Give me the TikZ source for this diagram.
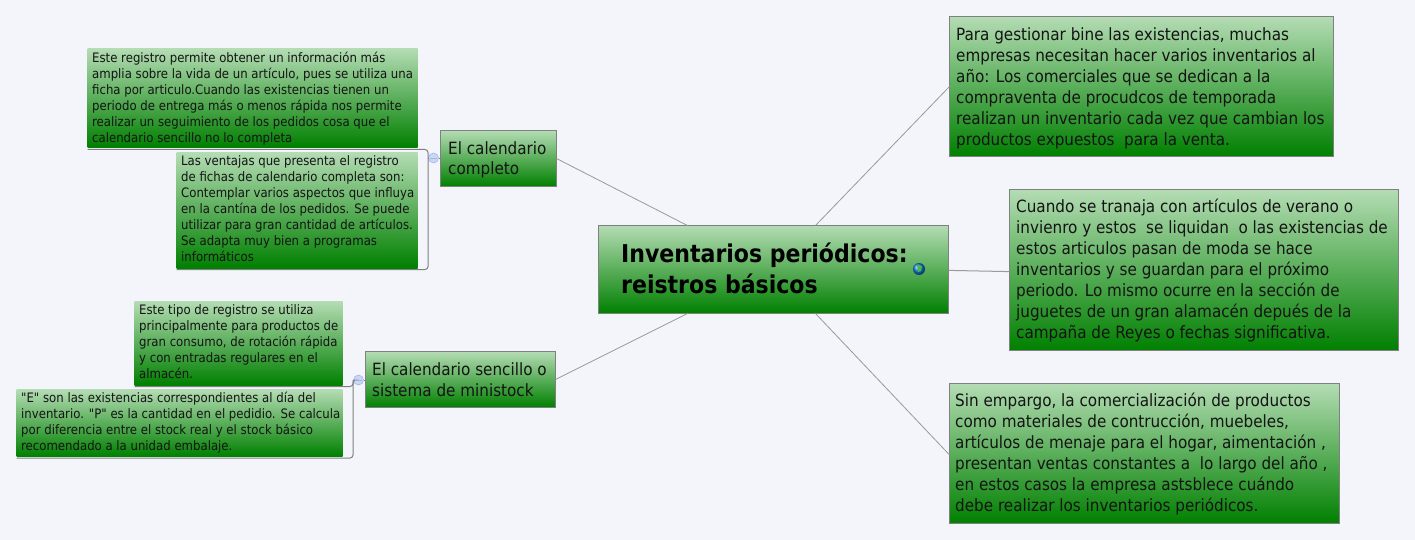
\documentclass[tikz,border=0pt]{standalone}
\usepackage{fontspec}
\setmainfont[Ligatures=TeXOff]{DejaVu Sans Condensed}
\usetikzlibrary{calc}
\definecolor{bgc}{HTML}{F3F5FB}
\definecolor{topg}{HTML}{B4DCB4}
\definecolor{botg}{HTML}{008000}
\definecolor{edge}{HTML}{808080}
\definecolor{toggle}{HTML}{C6D8F6}
\tikzset{
 x=1pt,y=-1pt,
 gbox/.style={rectangle,anchor=north west,top color=topg,bottom color=botg,middle color=topg!50!botg,text=black!90,align=left,inner sep=0pt,outer sep=0pt},
 mainbox/.style={gbox,draw=edge,line width=1pt,xshift=0.5pt,yshift=-0.5pt},
 plaintxt/.style={anchor=north west,inner sep=0pt,align=left,text=black!92},
 notetxt/.style={plaintxt,font=\fontsize{13.03}{16}\selectfont},
 bigtxt/.style={plaintxt,font=\fontsize{16.9}{21}\selectfont},
 link/.style={draw=edge!80,line width=0.8pt},
 bracket/.style={draw=edge,line width=1pt,rounded corners=3pt},
 togglec/.style={circle,draw=toggle!80!blue,fill=toggle,minimum size=10pt,inner sep=0pt,line width=0.5pt},
}
\begin{document}
\begin{tikzpicture}
\useasboundingbox (0,0) rectangle (1415,540);
\fill[bgc] (0,0) rectangle (1415,540);
% root
\node[mainbox,minimum width=350pt,minimum height=88pt] (root) at (598,225) {};
\node[plaintxt,font=\fontsize{24.5}{31}\bfseries\selectfont,text=black] (roottext) at (621,243) {Inventarios periódicos:\\reistros básicos};
% right
\node[mainbox,minimum width=384pt,minimum height=140pt] (r1) at (949,16) {};
\node[bigtxt] (r1t) at (956,27) {Para gestionar bine las existencias, muchas\\empresas necesitan hacer varios inventarios al\\año: Los comerciales que se dedican a la\\compraventa de procudcos de temporada\\realizan un inventario cada vez que cambian los\\productos expuestos\ \ para la venta.};
\node[mainbox,minimum width=389pt,minimum height=161pt] (r2) at (1009,189) {};
\node[bigtxt] (r2t) at (1016,199) {Cuando se tranaja con artículos de verano o\\invienro y estos\ \ se liquidan\ \ o las existencias de\\estos articulos pasan de moda se hace\\inventarios y se guardan para el próximo\\periodo. Lo mismo ocurre en la sección de\\juguetes de un gran alamacén depués de la\\campaña de Reyes o fechas significativa.};
\node[mainbox,minimum width=390pt,minimum height=140pt] (r3) at (949,383) {};
\node[bigtxt] (r3t) at (955,393) {Sin empargo, la comercialización de productos\\como materiales de contrucción, muebeles,\\artículos de menaje para el hogar, aimentación ,\\presentan ventas constantes a\ \ lo largo del año ,\\en estos casos la empresa astsblece cuándo\\debe realizar los inventarios periódicos.};
% left topics
\node[mainbox,minimum width=116pt,minimum height=56pt] (c1) at (440,130) {};
\node[plaintxt,font=\fontsize{16.9}{20}\selectfont] (c1t) at (448,141) {El calendario\\completo};
\node[mainbox,minimum width=190pt,minimum height=56pt] (c2) at (365,351) {};
\node[bigtxt] (c2t) at (372,362) {El calendario sencillo o\\sistema de ministock};
% notes
\node[gbox,minimum width=330pt,minimum height=99pt] (n1) at (87.5,48.5) {};
\node[notetxt] (n1t) at (92,52) {Este registro permite obtener un información más\\amplia sobre la vida de un artículo, pues se utiliza una\\ficha por articulo.Cuando las existencias tienen un\\periodo de entrega más o menos rápida nos permite\\realizar un seguimiento de los pedidos cosa que el\\calendario sencillo no lo completa};
\node[gbox,minimum width=241pt,minimum height=115.5pt] (n2) at (176.5,152.5) {};
\node[notetxt] (n2t) at (181,155) {Las ventajas que presenta el registro\\de fichas de calendario completa son:\\Contemplar varios aspectos que influya\\en la cantína de los pedidos. Se puede\\utilizar para gran cantidad de artículos.\\Se adapta muy bien a programas\\informáticos};
\node[gbox,minimum width=208pt,minimum height=83.5pt] (n3) at (134.5,301.5) {};
\node[notetxt] (n3t) at (139,304) {Este tipo de registro se utiliza\\principalmente para productos de\\gran consumo, de rotación rápida\\y con entradas regulares en el\\almacén.};
\node[gbox,minimum width=326pt,minimum height=67pt] (n4) at (16.5,389.5) {};
\node[notetxt] (n4t) at (21,392) {"E" son las existencias correspondientes al día del\\inventario. "P" es la cantidad en el pedidio. Se calcula\\por diferencia entre el stock real y el stock básico\\recomendado a la unidad embalaje.};
% connectors
\draw[link] ($(root.north west)!0.62!(root.north east)$) -- ($(r1.north west)!0.5!(r1.south west)$);
\draw[link,line width=1pt] ($(root.north east)!0.51!(root.south east)$) -- ($(r2.north west)!0.51!(r2.south west)$);
\draw[link] ($(root.south west)!0.62!(root.south east)$) -- ($(r3.north west)!0.51!(r3.south west)$);
\draw[link] ($(root.north west)!0.254!(root.north east)$) -- ($(c1.north east)!0.5!(c1.south east)$);
\draw[link] ($(root.south west)!0.254!(root.south east)$) -- ($(c2.north east)!0.5!(c2.south east)$);
% brackets
\node[togglec] (t1) at (433.5,158) {};
\node[togglec] (t2) at (358.5,380) {};
\coordinate (b1a) at (428,149.5);
\coordinate (b1b) at (428,269.5);
\draw[bracket] (n1.south west |- b1a) -- (b1a) -- (b1b) -- (n2.south west |- b1b);
\draw[edge,line width=0.8pt] (t1.east) -- (c1.west |- t1.east);
\draw[edge,line width=0.8pt] (t1.west) -- (t1.west -| b1a);
\coordinate (b2t) at (353,380);
\coordinate (b2a) at (353,386.5);
\coordinate (b2b) at (353,458);
\draw[bracket] (n3.south west |- b2a) -- (b2a) -- (b2t);
\draw[bracket] (t2.west) -- (b2t) -- (b2b) -- (n4.south west |- b2b);
\draw[edge,line width=0.8pt] (t2.east) -- (c2.west |- t2.east);
\draw[edge!40!toggle,line width=0.8pt] ($(t1.west)+(2,0)$) -- ($(t1.east)+(-2,0)$);
\draw[edge!40!toggle,line width=0.8pt] ($(t2.west)+(2,0)$) -- ($(t2.east)+(-2,0)$);
% globe
\shade[ball color=blue!50!cyan!80!gray] (919,269) circle (6pt);
\fill[green!45!gray] (917,265) -- (922,266) -- (921,271) -- (918,272) -- cycle;
\end{tikzpicture}
\end{document}
